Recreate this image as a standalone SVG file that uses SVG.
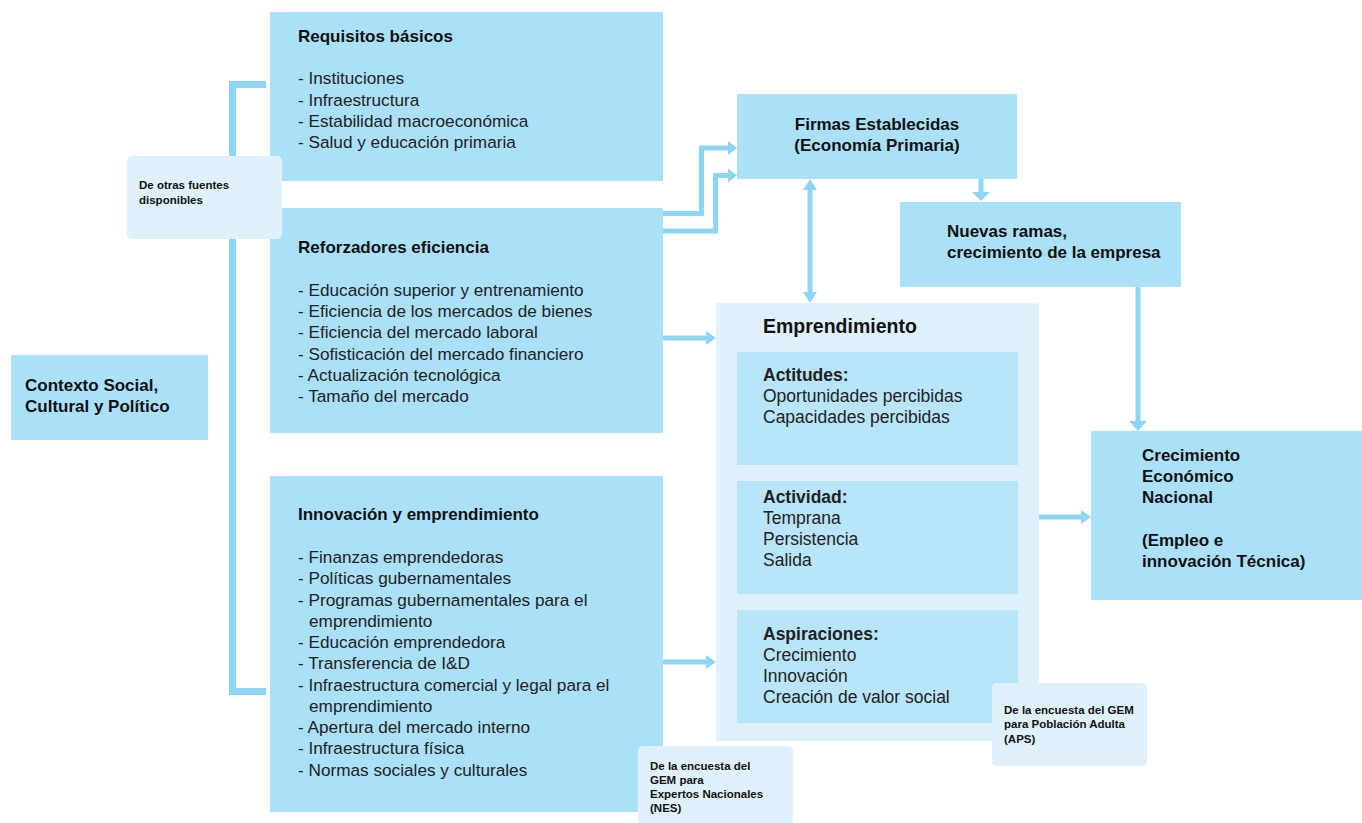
<svg xmlns="http://www.w3.org/2000/svg" width="1362" height="823" viewBox="0 0 1362 823">
<style>
.box{fill:#abe0f9}
.note{fill:#dff1fb}
.outer{fill:#dff1fb}
.inner{fill:#b8e5f9}
.ln{fill:none;stroke:#8dd5f5;stroke-width:5}
.br{fill:none;stroke:#8dd5f5;stroke-width:7}
.hd{fill:#8dd5f5}
text{font-family:"Liberation Sans",Arial,sans-serif;fill:#111}
.t{font-size:17px;font-weight:bold}
.i{font-size:17.2px;fill:#222}
.e{font-size:17.5px;fill:#222}
.n{font-size:11.5px;font-weight:bold}
</style>
<rect width="1362" height="823" fill="#fff"/>
<g id="connectors">
<path class="br" d="M266,84.5 H232.5 V691.5 H266"/>
<path class="ln" d="M663,213.5 H701.5 V148 H729"/>
<polygon class="hd" points="728,141 737,148 728,155"/>
<path class="ln" d="M663,231 H715.5 V175.5 H729"/>
<polygon class="hd" points="728,168.5 737,175.5 728,182.5"/>
<path class="ln" d="M810,188 V294"/>
<polygon class="hd" points="803,190 810,179 817,190"/>
<polygon class="hd" points="803,292 810,303 817,292"/>
<path class="ln" d="M981,179 V193"/>
<polygon class="hd" points="972,192 981,201 990,192"/>
<path class="ln" d="M1138,287 V422"/>
<polygon class="hd" points="1129,421 1138,431 1147,421"/>
<path class="ln" d="M663,338 H707"/>
<polygon class="hd" points="706,331 716,338 706,345"/>
<path class="ln" d="M663,662 H707"/>
<polygon class="hd" points="706,655 716,662 706,669"/>
<path class="ln" d="M1039,517 H1082"/>
<polygon class="hd" points="1081,510 1091,517 1081,524"/>
</g>
<g id="contexto">
<rect class="box" x="11" y="355" width="197" height="85"/>
<text class="t" x="25" y="391">Contexto Social,</text>
<text class="t" x="25" y="412">Cultural y Político</text>
</g>
<g id="requisitos">
<rect class="box" x="270" y="12" width="393" height="169"/>
<text class="t" x="298" y="42">Requisitos básicos</text>
<text class="i" x="298" y="84">- Instituciones</text>
<text class="i" x="298" y="106">- Infraestructura</text>
<text class="i" x="298" y="127">- Estabilidad macroeconómica</text>
<text class="i" x="298" y="148">- Salud y educación primaria</text>
</g>
<g id="reforzadores">
<rect class="box" x="270" y="208" width="393" height="225"/>
<text class="t" x="298" y="253">Reforzadores eficiencia</text>
<text class="i" x="298" y="296">- Educación superior y entrenamiento</text>
<text class="i" x="298" y="317">- Eficiencia de los mercados de bienes</text>
<text class="i" x="298" y="338">- Eficiencia del mercado laboral</text>
<text class="i" x="298" y="360">- Sofisticación del mercado financiero</text>
<text class="i" x="298" y="381">- Actualización tecnológica</text>
<text class="i" x="298" y="402">- Tamaño del mercado</text>
</g>
<g id="innovacion">
<rect class="box" x="270" y="476" width="393" height="336"/>
<text class="t" x="298" y="520">Innovación y emprendimiento</text>
<text class="i" x="298" y="563">- Finanzas emprendedoras</text>
<text class="i" x="298" y="584">- Políticas gubernamentales</text>
<text class="i" x="298" y="606">- Programas gubernamentales para el</text>
<text class="i" x="309" y="627">emprendimiento</text>
<text class="i" x="298" y="648">- Educación emprendedora</text>
<text class="i" x="298" y="669">- Transferencia de I&amp;D</text>
<text class="i" x="298" y="691">- Infraestructura comercial y legal para el</text>
<text class="i" x="309" y="712">emprendimiento</text>
<text class="i" x="298" y="733">- Apertura del mercado interno</text>
<text class="i" x="298" y="754">- Infraestructura física</text>
<text class="i" x="298" y="776">- Normas sociales y culturales</text>
</g>
<g id="firmas">
<rect class="box" x="737" y="94" width="280" height="85"/>
<text class="t" x="877" y="130" text-anchor="middle">Firmas Establecidas</text>
<text class="t" x="877" y="151" text-anchor="middle">(Economía Primaria)</text>
</g>
<g id="nuevas">
<rect class="box" x="900" y="202" width="281" height="85"/>
<text class="t" x="947" y="237">Nuevas ramas,</text>
<text class="t" x="947" y="258">crecimiento de la empresa</text>
</g>
<g id="emprendimiento">
<rect class="outer" x="716" y="303" width="323" height="438"/>
<text x="763" y="333" style="font-size:19.5px;font-weight:bold">Emprendimiento</text>
<rect class="inner" x="737" y="352" width="281" height="113"/>
<text class="e" x="763" y="381" style="font-weight:bold">Actitudes:</text>
<text class="e" x="763" y="402">Oportunidades percibidas</text>
<text class="e" x="763" y="423">Capacidades percibidas</text>
<rect class="inner" x="737" y="481" width="281" height="113"/>
<text class="e" x="763" y="503" style="font-weight:bold">Actividad:</text>
<text class="e" x="763" y="524">Temprana</text>
<text class="e" x="763" y="545">Persistencia</text>
<text class="e" x="763" y="566">Salida</text>
<rect class="inner" x="737" y="610" width="281" height="113"/>
<text class="e" x="763" y="640" style="font-weight:bold">Aspiraciones:</text>
<text class="e" x="763" y="661">Crecimiento</text>
<text class="e" x="763" y="682">Innovación</text>
<text class="e" x="763" y="703">Creación de valor social</text>
</g>
<g id="crecimiento">
<rect class="box" x="1091" y="431" width="271" height="169"/>
<text class="t" x="1142" y="461">Crecimiento</text>
<text class="t" x="1142" y="482">Económico</text>
<text class="t" x="1142" y="503">Nacional</text>
<text class="t" x="1142" y="546">(Empleo e</text>
<text class="t" x="1142" y="567">innovación Técnica)</text>
</g>
<g id="nota-otras">
<rect class="note" x="127" y="156" width="155" height="83" rx="5"/>
<text class="n" x="139" y="189">De otras fuentes</text>
<text class="n" x="139" y="204">disponibles</text>
</g>
<g id="nota-nes">
<rect class="note" x="638" y="746" width="155" height="85" rx="5"/>
<text class="n" x="650" y="770">De la encuesta del</text>
<text class="n" x="650" y="784">GEM para</text>
<text class="n" x="650" y="798">Expertos Nacionales</text>
<text class="n" x="650" y="812">(NES)</text>
</g>
<g id="nota-aps">
<rect class="note" x="992" y="683" width="155" height="83" rx="5"/>
<text class="n" x="1004" y="714">De la encuesta del GEM</text>
<text class="n" x="1004" y="728">para Población Adulta</text>
<text class="n" x="1004" y="743">(APS)</text>
</g>
</svg>
